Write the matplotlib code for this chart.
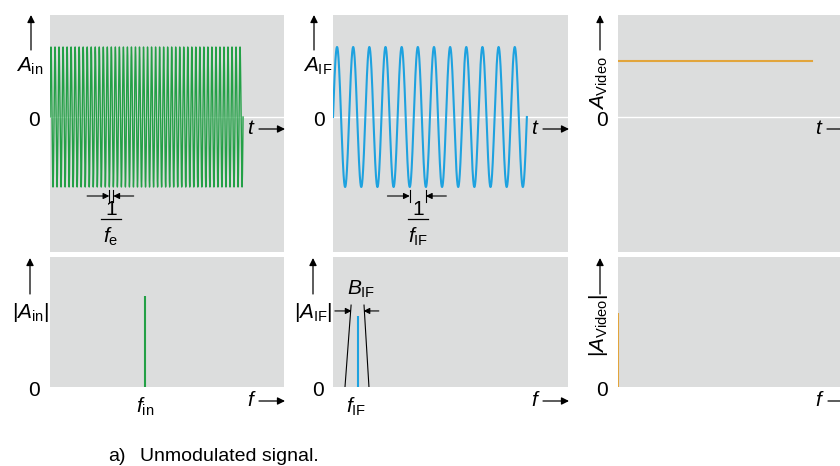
import numpy as np
import matplotlib
matplotlib.use("Agg")
import matplotlib.pyplot as plt

plt.rcParams['font.family'] = ['Liberation Sans', 'DejaVu Sans']
plt.rcParams['mathtext.fontset'] = 'custom'
plt.rcParams['mathtext.rm'] = 'Liberation Sans'
plt.rcParams['mathtext.it'] = 'Liberation Sans:italic'

# ---- data ----
burst_duration = 0.825      # fraction of time axis occupied by the burst
in_cycles = 48              # cycles of input signal
if_cycles = 12              # cycles of IF signal
amp_in = 1.0
amp_if = 1.0
amp_video = 0.8
spec_freqs = [0.406, 0.106, 0.0]       # f_in, f_IF, 0 (video)
spec_heights = [0.70, 0.545, 0.57]
bw_if = [0.051, 0.153]                 # B_IF band edges at base
bw_if_top = [0.077, 0.132]
caption_tag = "a)"
caption = "Unmodulated signal."

GREEN = "#23a046"
BLUE = "#1ea2df"
ORANGE = "#e2a53c"
GREY = "#dcdddd"

W, H = 840, 466
fig = plt.figure(figsize=(W / 100, H / 100), dpi=100)

def fx(px):
    return px / W

def fy(py):
    return 1 - py / H

def add_ax(l, t, r, b):
    ax = fig.add_axes([fx(l), fy(b), fx(r) - fx(l), fy(t) - fy(b)])
    ax.set_facecolor(GREY)
    for s in ax.spines.values():
        s.set_visible(False)
    ax.set_xticks([])
    ax.set_yticks([])
    return ax

lefts = [50, 333, 618]
rights = [284, 568, 853]
top_axes, bot_axes = [], []
for l, r in zip(lefts, rights):
    a = add_ax(l, 15, r, 252)
    a.set_xlim(0, 1)
    a.set_ylim(-(252 - 117) / 70, (117 - 15) / 70)
    a.axhline(0, color='white', lw=1.0, zorder=1)
    top_axes.append(a)
    b = add_ax(l, 257, r, 387)
    b.set_xlim(0, 1)
    b.set_ylim(0, 1)
    bot_axes.append(b)

# time signals
t_in = np.linspace(0, burst_duration, 6000)
top_axes[0].plot(t_in, amp_in * np.sin(2 * np.pi * in_cycles * t_in / burst_duration),
                 color=GREEN, lw=1.0, zorder=2)
t_if = np.linspace(0, burst_duration, 3000)
top_axes[1].plot(t_if, amp_if * np.sin(2 * np.pi * if_cycles * t_if / burst_duration),
                 color=BLUE, lw=1.5, zorder=2)
top_axes[2].plot([0, burst_duration], [amp_video, amp_video], color=ORANGE, lw=1.5, zorder=2)

# spectra
for ax, f, h, c in zip(bot_axes, spec_freqs, spec_heights, [GREEN, BLUE, ORANGE]):
    ax.plot([f, f], [0, h], color=c, lw=1.5, zorder=3, solid_capstyle='butt')

# B_IF band lines
bax = bot_axes[1]
ytop = 0.63
bax.plot([bw_if[0], bw_if_top[0]], [0, ytop], color='black', lw=0.8)
bax.plot([bw_if[1], bw_if_top[1]], [0, ytop], color='black', lw=0.8)
ya = 0.585
bax.annotate('', xy=(bw_if_top[0] + 0.002, ya), xytext=(0.008, ya),
             arrowprops=dict(arrowstyle='-|>', color='black', lw=0.8,
                             mutation_scale=9, shrinkA=0, shrinkB=0), annotation_clip=False)
bax.annotate('', xy=(bw_if_top[1] - 0.002, ya), xytext=(0.195, ya),
             arrowprops=dict(arrowstyle='-|>', color='black', lw=0.8,
                             mutation_scale=9, shrinkA=0, shrinkB=0), annotation_clip=False)

# period dimension markers
def period_marker(ax, x0, x1, y):
    for x in (x0, x1):
        ax.plot([x, x], [y - 0.08, y + 0.08], color='black', lw=0.8, zorder=4)
    ax.annotate('', xy=(x0, y), xytext=(x0 - 0.095, y),
                arrowprops=dict(arrowstyle='-|>', color='black', lw=0.8,
                                mutation_scale=9, shrinkA=0, shrinkB=0))
    ax.annotate('', xy=(x1, y), xytext=(x1 + 0.087, y),
                arrowprops=dict(arrowstyle='-|>', color='black', lw=0.8,
                                mutation_scale=9, shrinkA=0, shrinkB=0))

ym = (117 - 196) / 70
p_in = burst_duration / in_cycles
x0 = 0.75 * p_in + 14 * p_in
period_marker(top_axes[0], x0, x0 + p_in, ym)
p_if = burst_duration / if_cycles
x0 = 0.75 * p_if + 4 * p_if
period_marker(top_axes[1], x0, x0 + p_if, ym)

# ---- texts in figure pixel coordinates ----
FS = 15

def txt(px, py, s, **kw):
    kw.setdefault('fontsize', FS)
    kw.setdefault('ha', 'center')
    kw.setdefault('va', 'center')
    fig.text(fx(px), fy(py), s, **kw)

def farrow(x0, y0, x1, y1):
    fig.add_artist(matplotlib.patches.FancyArrowPatch(
        (fx(x0), fy(y0)), (fx(x1), fy(y1)), transform=fig.transFigure,
        arrowstyle='-|>', mutation_scale=11, lw=0.9, color='black',
        shrinkA=0, shrinkB=0))

def frac(px, label):
    txt(px, 209, '1')
    fig.add_artist(matplotlib.lines.Line2D([fx(px - 10), fx(px + 10)], [fy(219), fy(219)],
                                           color='black', lw=0.9, transform=fig.transFigure))
    txt(px, 237, label)

frac(111, r'$f_\mathrm{e}$')
frac(418, r'$f_\mathrm{IF}$')

# top row
farrow(31, 50, 31, 15)
txt(30, 66, r'$A_\mathrm{in}$')
txt(34, 120, '0')
farrow(314, 50, 314, 15)
txt(318, 66, r'$A_\mathrm{IF}$')
txt(319, 120, '0')
farrow(600, 50, 600, 15)
txt(599, 83, r'$A_\mathrm{Video}$', rotation=90)
txt(602, 120, '0')
for tx, a0, a1 in [(251, 259, 285), (535, 543, 569), (819, 827, 853)]:
    txt(tx, 129, r'$t$')
    farrow(a0, 129, a1, 129)

# bottom row
farrow(30, 294, 30, 258)
txt(30, 313, r'$|A_\mathrm{in}|$')
txt(34, 390, '0')
txt(145, 407, r'$f_\mathrm{in}$')
farrow(313, 294, 313, 258)
txt(313, 313, r'$|A_\mathrm{IF}|$')
txt(318, 390, '0')
txt(356, 407, r'$f_\mathrm{IF}$')
txt(361, 289, r'$B_\mathrm{IF}$')
farrow(600, 294, 600, 258)
txt(599, 326, r'$|A_\mathrm{Video}|$', rotation=90)
txt(602, 390, '0')
for tx, a0, a1 in [(252, 259, 285), (536, 543, 569), (820, 828, 853)]:
    txt(tx, 401, r'$f$')
    farrow(a0, 401, a1, 401)

fig.text(fx(108), fy(461), caption_tag, fontsize=14, ha='left', va='baseline')
fig.text(fx(140), fy(461), caption, fontsize=14, ha='left', va='baseline')

fig.savefig('out.png', dpi=100)
